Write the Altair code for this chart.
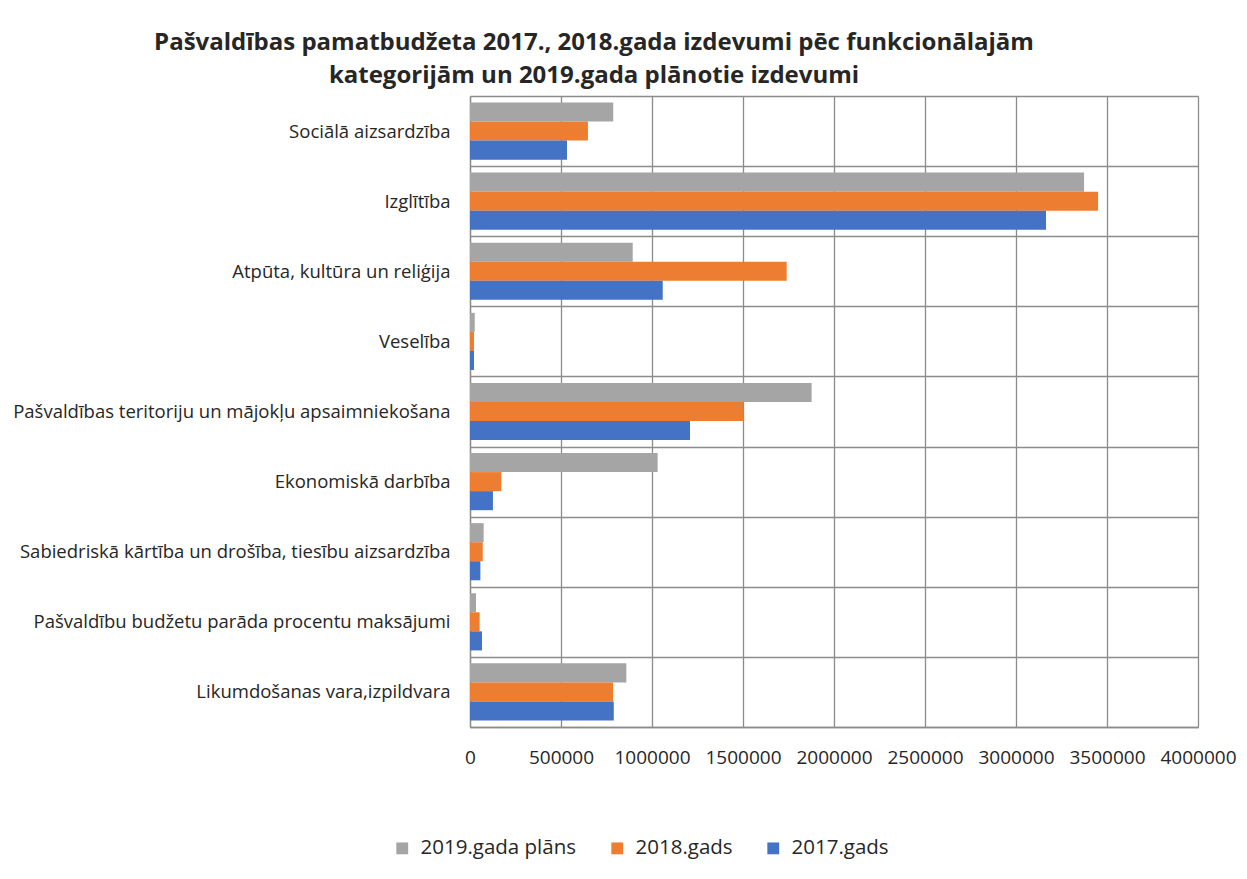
import altair as alt
import pandas as pd

categories = [
    "Sociālā aizsardzība",
    "Izglītība",
    "Atpūta, kultūra un reliģija",
    "Veselība",
    "Pašvaldības teritoriju un mājokļu apsaimniekošana",
    "Ekonomiskā darbība",
    "Sabiedriskā kārtība un drošība, tiesību aizsardzība",
    "Pašvaldību budžetu parāda procentu maksājumi",
    "Likumdošanas vara,izpildvara",
]
series = ["2019.gada plāns", "2018.gads", "2017.gads"]
colors = ["#A5A5A5", "#ED7D31", "#4472C4"]
v2019 = [787000, 3374000, 894000, 26000, 1877000, 1031000, 75000, 33000, 859000]
v2018 = [648000, 3451000, 1740000, 22000, 1502000, 172000, 70000, 53000, 786000]
v2017 = [533000, 3165000, 1059000, 22000, 1209000, 126000, 57000, 66000, 790000]
x_ticks = [0, 500000, 1000000, 1500000, 2000000, 2500000, 3000000, 3500000, 4000000]

rows = []
for s, vals in zip(series, [v2019, v2018, v2017]):
    for c, v in zip(categories, vals):
        rows.append({"cat": c, "series": s, "value": v})
df = pd.DataFrame(rows)

FONT = "Open Sans"

chart = alt.Chart(df).mark_bar().encode(
    y=alt.Y(
        "cat:N",
        sort=categories,
        title=None,
        scale=alt.Scale(paddingInner=0, paddingOuter=0),
        axis=alt.Axis(
            tickBand="extent",
            ticks=False,
            grid=True,
            gridColor="#8c8c8c",
            gridWidth=1.3,
            domain=True,
            domainColor="#8c8c8c",
            domainWidth=1.3,
            labelFontSize=18.5,
            labelColor="#262626",
            labelPadding=20,
            labelLimit=0,
            labelFont=FONT,
        ),
    ),
    yOffset=alt.YOffset(
        "series:N",
        sort=series,
        scale=alt.Scale(paddingInner=0, paddingOuter=0.34),
    ),
    x=alt.X(
        "value:Q",
        title=None,
        scale=alt.Scale(domain=[0, 4000000], nice=False),
        axis=alt.Axis(
            values=x_ticks,
            format="d",
            ticks=False,
            grid=True,
            gridColor="#8c8c8c",
            gridWidth=1.3,
            domainColor="#8c8c8c",
            domainWidth=1.3,
            labelFontSize=19,
            labelColor="#262626",
            labelPadding=21,
            labelFont=FONT,
            labelOverlap=False,
            labelFlush=False,
            labelBound=False,
        ),
    ),
    color=alt.Color(
        "series:N",
        sort=series,
        scale=alt.Scale(domain=series, range=colors),
        legend=alt.Legend(
            title=None,
            orient="none",
            direction="horizontal",
            legendX=-78,
            legendY=742,
            symbolType="square",
            symbolSize=140,
            symbolStrokeWidth=0,
            labelFontSize=20.5,
            labelColor="#262626",
            labelFont=FONT,
            labelOffset=8,
            columnPadding=30,
        ),
    ),
).properties(
    width=728,
    height=631,
    title=alt.TitleParams(
        text=[
            "Pašvaldības pamatbudžeta 2017., 2018.gada izdevumi pēc funkcionālajām",
            "kategorijām un 2019.gada plānotie izdevumi",
        ],
        font=FONT,
        fontSize=24,
        fontWeight="bold",
        color="#262626",
        lineHeight=33,
        anchor="middle",
        dx=-240,
        offset=-1,
    ),
    autosize=alt.AutoSizeParams(type="none"),
    padding={"left": 470, "top": 96, "right": 49, "bottom": 152},
).configure_view(stroke="#8c8c8c", strokeWidth=1.3).configure(background="white")

chart.save("out.html", embed_options={"renderer": "svg", "actions": False})
